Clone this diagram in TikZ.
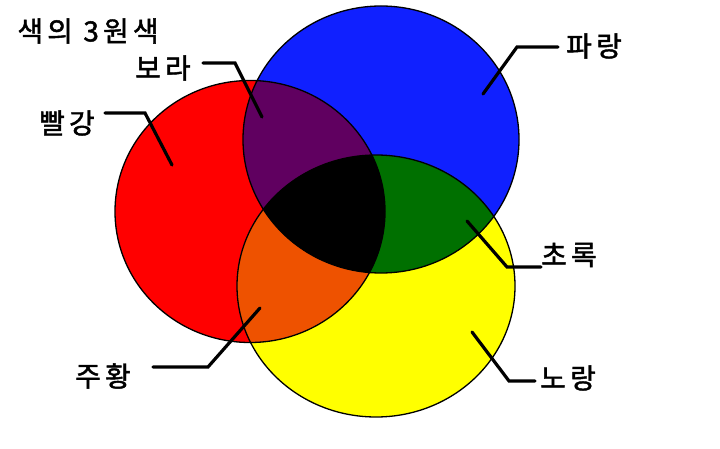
\documentclass[tikz,border=0pt]{standalone}
\usepackage{fontspec}
\newfontfamily\kr{Noto Sans CJK KR}[FakeBold=1.6,LetterSpace=15]
\definecolor{cred}{RGB}{255,0,0}
\definecolor{cblue}{RGB}{16,32,255}
\definecolor{cyellow}{RGB}{255,255,0}
\definecolor{cpurple}{RGB}{96,0,96}
\definecolor{corange}{RGB}{238,82,0}
\definecolor{cgreen}{RGB}{0,112,0}
\begin{document}
\begin{tikzpicture}[x=1bp,y=-1bp,
  lbl/.style={font=\kr\fontsize{28}{28}\selectfont,inner sep=0pt,text=black},
  leader/.style={line width=3.2bp,line cap=round,line join=miter},
  rim/.style={draw=black,line width=1.3bp}]
\useasboundingbox (0,0) rectangle (720,449);
\fill[white] (0,0) rectangle (720,449);
\coordinate (R) at (250,211.5);
\coordinate (B) at (381,139.5);
\coordinate (Y) at (376,286);
\def\RE{(R) ellipse [x radius=135bp,y radius=131bp]}
\def\BE{(B) ellipse [x radius=138bp,y radius=133.5bp]}
\def\YE{(Y) ellipse [x radius=139bp,y radius=131bp]}
% base fills
\fill[cred] \RE;
\fill[cblue] \BE;
\fill[cyellow] \YE;
% pairwise overlaps
\begin{scope}\clip \RE; \fill[cpurple] \BE; \end{scope}
\begin{scope}\clip \RE; \fill[corange] \YE; \end{scope}
\begin{scope}\clip \BE; \fill[cgreen] \YE; \end{scope}
\begin{scope}\clip \RE; \clip \BE; \fill[black] \YE; \end{scope}
% outlines
\draw[rim] \RE;
\draw[rim] \BE;
\draw[rim] \YE;
% labels
\node[lbl] (title) at (88,31) {색의 3원색};
\node[lbl] (ppl) at (163,68) {보라};
\node[lbl] (red) at (67,123) {빨강};
\node[lbl] (blu) at (594,46) {파랑};
\node[lbl] (grn) at (569,255) {초록};
\node[lbl] (yel) at (568,378) {노랑};
\node[lbl] (org) at (103,376) {주황};
% leader points
\coordinate (p1) at (203,63); \coordinate (p2) at (235,63); \coordinate (p3) at (262,117);
\coordinate (r1) at (105,113); \coordinate (r2) at (145,113); \coordinate (r3) at (172,165);
\coordinate (b1) at (558,47); \coordinate (b2) at (517,47); \coordinate (b3) at (483,94);
\coordinate (g1) at (541,267); \coordinate (g2) at (507,267); \coordinate (g3) at (467,221);
\coordinate (y1) at (535,381); \coordinate (y2) at (509,381); \coordinate (y3) at (472,332);
\coordinate (o1) at (153,367); \coordinate (o2) at (208,367); \coordinate (o3) at (260,308);
\draw[leader] (p1) -- (p2) -- (p3);
\draw[leader] (r1) -- (r2) -- (r3);
\draw[leader] (b1) -- (b2) -- (b3);
\draw[leader] (g1) -- (g2) -- (g3);
\draw[leader] (y1) -- (y2) -- (y3);
\draw[leader] (o1) -- (o2) -- (o3);
\end{tikzpicture}
\end{document}
